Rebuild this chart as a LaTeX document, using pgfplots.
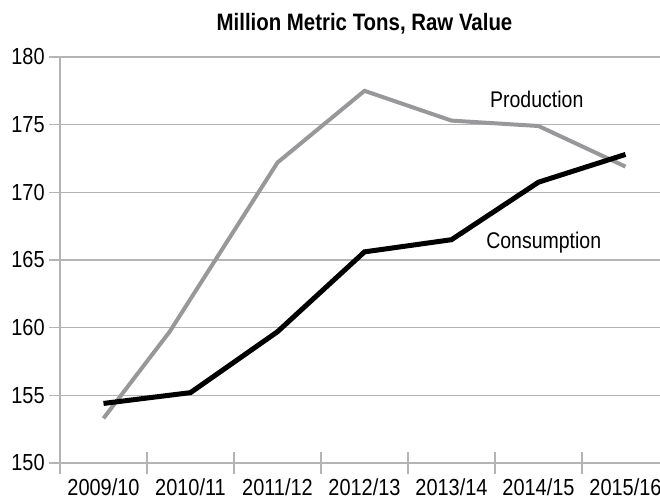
\documentclass[border=0pt]{standalone}
\usepackage{fontspec}
\setmainfont{Liberation Sans}[FakeStretch=0.86]
\usepackage{pgfplots}
\pgfplotsset{compat=1.18}
\definecolor{prodgray}{RGB}{152,152,154}
\definecolor{gridgray}{RGB}{180,180,180}

\begin{document}
\begin{tikzpicture}
	\begin{axis}[
		scale only axis,
		width=456.75pt, height=304.5pt,
		xmin=-0.5, xmax=6.5,
		ymin=150, ymax=180,
		xtick={-0.5,0.5,...,6.5},
		x tick label as interval,
		xticklabels={2009/10,2010/11,2011/12,2012/13,2013/14,2014/15,2015/16},
		ytick={150,155,...,180},
		ymajorgrids,
		grid style={gridgray, line width=0.9pt},
		axis x line*=bottom, axis y line*=left,
		axis line style={gridgray, line width=0.9pt},
		tick style={gridgray, line width=0.9pt},
		tick align=center,
		major tick length=16pt,
		tick label style={font=\fontsize{17.4}{19}\selectfont},
		/pgf/number format/assume math mode=true,
		title={Million Metric Tons, Raw Value},
		title style={font=\bfseries\fontsize{17.8}{20}\selectfont, at={(0.5,1)}, anchor=base, yshift=13.5pt},
		clip=false,
		]
		\addplot[prodgray, line width=3pt] coordinates {
			(0,153.3) (0.76,159.7) (2,172.2) (3,177.5) (4,175.3) (5,174.9) (6,171.9)
		};
		\addplot[black, line width=3.75pt] coordinates {
			(0,154.4) (1,155.2) (2,159.7) (3,165.6) (4,166.5) (5,170.75) (6,172.8)
		};
		\node[font=\fontsize{17}{19}\selectfont] at (axis cs:4.98,176.9) {Production};
		\node[font=\fontsize{17}{19}\selectfont] at (axis cs:5.06,166.25) {Consumption};
		\coordinate (sw) at (rel axis cs:0,0);
		\coordinate (nw) at (rel axis cs:0,1);
	\end{axis}
	\pgfresetboundingbox
	\path[use as bounding box] ([xshift=-45pt,yshift=-27pt]sw) rectangle ([xshift=450pt,yshift=42.75pt]nw);
\end{tikzpicture}
\end{document}
